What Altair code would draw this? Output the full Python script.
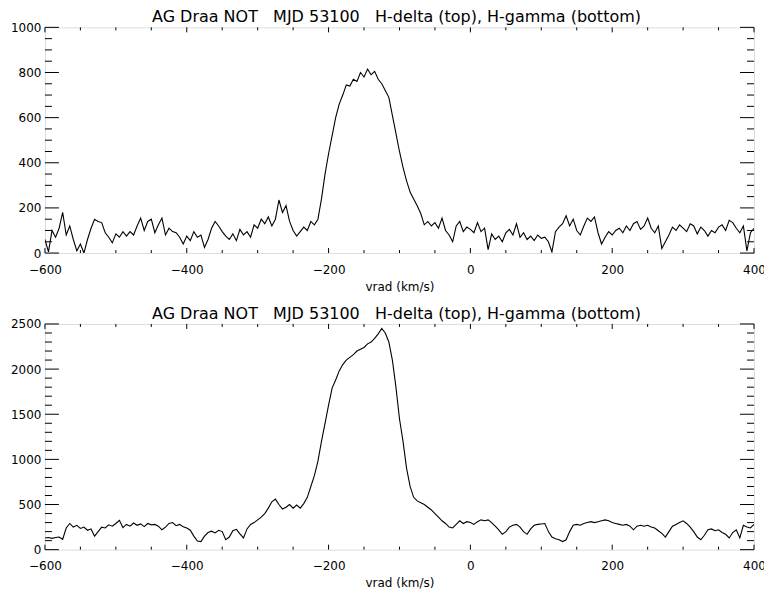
import altair as alt
import pandas as pd

TITLE = "AG Draa NOT\u00a0\u00a0 MJD 53100\u00a0\u00a0 H-delta (top), H-gamma (bottom)"
XTITLE = "vrad (km/s)"

VRAD = [
    -600, -595, -590, -585, -580, -575, -570, -565, -560, -555, -550, -545, -540, -535, -530, -525, -520, -515, -510, -505,
    -500, -495, -490, -485, -480, -475, -470, -465, -460, -455, -450, -445, -440, -435, -430, -425, -420, -415, -410, -405,
    -400, -395, -390, -385, -380, -375, -370, -365, -360, -355, -350, -345, -340, -335, -330, -325, -320, -315, -310, -305,
    -300, -295, -290, -285, -280, -275, -270, -265, -260, -255, -250, -245, -240, -235, -230, -225, -220, -215, -210, -205,
    -200, -195, -190, -185, -180, -175, -170, -165, -160, -155, -150, -145, -140, -135, -130, -125, -120, -115, -110, -105,
    -100, -95, -90, -85, -80, -75, -70, -65, -60, -55, -50, -45, -40, -35, -30, -25, -20, -15, -10, -5,
    0, 5, 10, 15, 20, 25, 30, 35, 40, 45, 50, 55, 60, 65, 70, 75, 80, 85, 90, 95,
    100, 105, 110, 115, 120, 125, 130, 135, 140, 145, 150, 155, 160, 165, 170, 175, 180, 185, 190, 195,
    200, 205, 210, 215, 220, 225, 230, 235, 240, 245, 250, 255, 260, 265, 270, 275, 280, 285, 290, 295,
    300, 305, 310, 315, 320, 325, 330, 335, 340, 345, 350, 355, 360, 365, 370, 375, 380, 385, 390, 395,
    400,
]

HDELTA = [
    60, 5, 100, 70, 110, 180, 80, 120, 60, 10, 40, 0, 60, 110, 150, 140, 135, 90, 70, 45,
    85, 70, 95, 75, 95, 80, 120, 155, 100, 140, 150, 90, 125, 155, 80, 110, 95, 90, 70, 40,
    75, 55, 95, 70, 80, 25, 60, 110, 140, 120, 95, 75, 60, 85, 55, 105, 80, 95, 70, 125,
    110, 150, 130, 160, 120, 150, 235, 180, 210, 140, 100, 75, 95, 115, 100, 140, 125, 150, 240, 350,
    440, 520, 600, 660, 700, 745, 740, 770, 760, 800, 780, 815, 790, 805, 770, 750, 720, 690, 610, 530,
    450, 380, 320, 270, 240, 210, 175, 125, 140, 120, 135, 110, 155, 100, 80, 50, 120, 140, 95, 115,
    105, 90, 135, 95, 110, 15, 85, 60, 75, 50, 90, 105, 80, 130, 70, 90, 60, 75, 55, 80,
    65, 70, 50, 5, 95, 115, 130, 165, 120, 150, 100, 80, 120, 155, 140, 160, 90, 40, 70, 95,
    80, 100, 110, 90, 120, 100, 130, 140, 105, 120, 155, 110, 90, 120, 20, 50, 80, 115, 100, 125,
    110, 95, 130, 120, 85, 115, 100, 75, 100, 90, 115, 125, 100, 145, 135, 110, 90, 120, 10, 90,
    110,
]

HGAMMA = [
    130, 135, 125, 135, 140, 115, 240, 290, 250, 270, 235, 250, 215, 230, 150, 200, 250, 240, 275, 260,
    290, 325, 245, 280, 260, 295, 270, 285, 255, 290, 275, 280, 260, 220, 250, 290, 300, 265, 280, 255,
    240, 215, 150, 95, 90, 150, 190, 205, 185, 215, 200, 110, 140, 210, 225, 175, 130, 230, 280, 300,
    330, 360, 400, 460, 530, 560, 500, 450, 470, 500, 460, 495, 460, 510, 580, 700, 820, 980, 1200, 1400,
    1600, 1790, 1880, 1980, 2050, 2100, 2130, 2160, 2200, 2220, 2240, 2280, 2300, 2340, 2390, 2450, 2400, 2300, 2100, 1800,
    1450, 1200, 900, 700, 580, 540, 520, 500, 470, 440, 400, 360, 320, 290, 250, 240, 280, 320, 290, 310,
    300, 280, 310, 330, 320, 330, 300, 260, 220, 170, 200, 250, 270, 280, 250, 200, 170, 230, 270, 280,
    285, 290, 200, 140, 120, 110, 90, 110, 200, 270, 280, 270, 290, 300, 310, 300, 310, 320, 330, 320,
    300, 290, 280, 270, 280, 260, 220, 260, 270, 260, 270, 250, 240, 210, 180, 140, 200, 260, 280, 300,
    320, 290, 250, 200, 140, 110, 160, 220, 230, 210, 220, 190, 170, 130, 190, 220, 130, 270, 250, 240,
    280,
]

X_MAJOR = [-600, -400, -200, 0, 200, 400]
X_MINOR = [-550, -500, -450, -350, -300, -250, -150, -100, -50, 50, 100, 150, 250, 300, 350]
Y1_MAJOR = [0, 200, 400, 600, 800, 1000]
Y1_MINOR = [50, 100, 150, 250, 300, 350, 450, 500, 550, 650, 700, 750, 850, 900, 950]
Y2_MAJOR = [0, 500, 1000, 1500, 2000, 2500]
Y2_MINOR = [100, 200, 300, 400, 600, 700, 800, 900, 1100, 1200, 1300, 1400,
            1600, 1700, 1800, 1900, 2100, 2200, 2300, 2400]

W, H = 710, 226
FONT = "DejaVu Sans"


def panel(values, ymax, ymajor, yminor):
    xs = alt.Scale(domain=[-600, 400], nice=False, zero=False)
    ys = alt.Scale(domain=[0, ymax], nice=False, zero=False)
    xaxis = alt.Axis(
        values=X_MAJOR, ticks=False, tickSize=0, grid=False, domain=False,
        labelPadding=11, labelFontSize=12, labelFont=FONT, labelColor="black",
        title=XTITLE, titleFontSize=12, titleFont=FONT, titleFontWeight="normal",
        titleColor="black", titlePadding=6, labelFlush=False)
    yaxis = alt.Axis(
        values=ymajor, ticks=False, tickSize=0, grid=False, domain=False,
        labelPadding=4, labelFontSize=12, labelFont=FONT, labelColor="black",
        title=None, format="d")
    X = alt.X("v:Q", scale=xs, axis=xaxis)
    Y = alt.Y("f:Q", scale=ys, axis=yaxis)
    df = pd.DataFrame({"v": VRAD, "f": values})
    line = alt.Chart(df).mark_line(color="black", strokeWidth=1.1, clip=True).encode(x=X, y=Y)
    title = alt.Chart(pd.DataFrame({"t": [TITLE]})).mark_text(
        font=FONT, fontSize=16, color="black", align="center", baseline="alphabetic"
    ).encode(text="t:N", x=alt.value(W / 2 - 3), y=alt.value(-5))
    xmaj = pd.DataFrame({"v": X_MAJOR})
    xmin = pd.DataFrame({"v": X_MINOR})
    ymj = pd.DataFrame({"f": ymajor})
    ymn = pd.DataFrame({"f": yminor})
    layers = [line, title]
    for d, ln in ((xmaj, 5), (xmin, 3)):
        layers.append(alt.Chart(d).mark_rule(color="black", strokeWidth=1).encode(
            x=X, y=alt.value(H), y2=alt.value(H - ln)))
        layers.append(alt.Chart(d).mark_rule(color="black", strokeWidth=1).encode(
            x=X, y=alt.value(0), y2=alt.value(ln)))
    for d, ln in ((ymj, 14), (ymn, 7)):
        layers.append(alt.Chart(d).mark_rule(color="black", strokeWidth=1).encode(
            y=Y, x=alt.value(0), x2=alt.value(ln)))
        layers.append(alt.Chart(d).mark_rule(color="black", strokeWidth=1).encode(
            y=Y, x=alt.value(W), x2=alt.value(W - ln)))
    return alt.layer(*layers).properties(width=W, height=H)


top = panel(HDELTA, 1000, Y1_MAJOR, Y1_MINOR)
bottom = panel(HGAMMA, 2500, Y2_MAJOR, Y2_MINOR)

chart = alt.VConcatChart(vconcat=[top, bottom], spacing=71, bounds="flush").properties(
    padding={"left": 9, "top": 8, "right": -2, "bottom": 0}
).configure_view(stroke="black", strokeWidth=1).configure(background="white")

chart.save("out.html", embed_options={"renderer": "svg", "actions": False})
